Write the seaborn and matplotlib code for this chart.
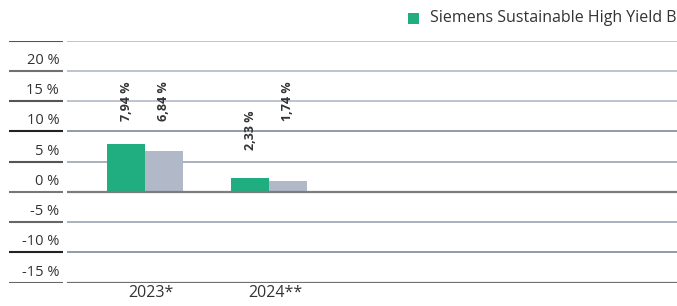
import matplotlib
matplotlib.use("Agg")
import matplotlib.pyplot as plt
import seaborn as sns
import pandas as pd
from matplotlib.patches import Rectangle

# ---- data ----
categories = ["2023*", "2024**"]
fund_values = [7.94, 2.33]
bench_values = [6.84, 1.74]
series_names = ["Siemens Sustainable High Yield B", "Benchmark"]
value_labels_fund = ["7,94 %", "2,33 %"]
value_labels_bench = ["6,84 %", "1,74 %"]
y_ticks = [25, 20, 15, 10, 5, 0, -5, -10, -15]
y_tick_labels = ["", "20 %", "15 %", "10 %", "5 %", "0 %", "-5 %", "-10 %", "-15 %"]

# label anchor heights (layout)
label_base_fund = [11.75, 6.95]
label_base_bench = [11.75, 11.75]

GREEN = "#20ad80"
GREY = "#b1b8c7"

sns.set_theme(style="white")
plt.rcParams["font.family"] = ["Open Sans", "DejaVu Sans"]

W, H = 677, 306
fig = plt.figure(figsize=(W / 100, H / 100), dpi=100)

px_left, px_right = 67, 677
px_top, px_bot = 40.7, 282.7
ax = fig.add_axes([px_left / W, 1 - px_bot / H, (px_right - px_left) / W, (px_bot - px_top) / H])
axl = fig.add_axes([9 / W, 1 - px_bot / H, (63 - 9) / W, (px_bot - px_top) / H])

df = pd.DataFrame({
    "cat": categories * 2,
    "val": fund_values + bench_values,
    "series": [series_names[0]] * len(categories) + [series_names[1]] * len(categories),
})
sns.barplot(data=df, x="cat", y="val", hue="series", palette=[GREEN, GREY],
            width=0.605, gap=0, legend=False, ax=ax, zorder=3, saturation=1,
            linewidth=0, edgecolor="none")

ax.set_ylim(-15, 25)
ax.set_xlim(-0.629, 4.29)
axl.set_ylim(-15, 25)
axl.set_xlim(0, 1)

right_colors = {25: "#b9bfcc", 20: "#b9bfcc", 15: "#b9bfcc", 10: "#8a93a5", 5: "#a3abbb",
                0: "#7d7d7d", -5: "#a3abbb", -10: "#8a93a5", -15: "#6f6f6f"}
left_colors = {25: "#555555", 20: "#707070", 15: "#555555", 10: "#222222", 5: "#555555",
               0: "#777777", -5: "#666666", -10: "#222222", -15: "#666666"}
for t in y_ticks:
    ax.axhline(t, color=right_colors[t], lw=1.6 if t in (0, -15) else 1.3, zorder=4 if t == 0 else 1)
    axl.axhline(t, color=left_colors[t], lw=1.5)

for t, lab in zip(y_ticks, y_tick_labels):
    if lab:
        axl.text(0.93, t + 1.75, lab, ha="right", va="center", fontsize=10.5, color="#333333")

for a in (ax, axl):
    a.set_yticks([])
    for s in a.spines.values():
        s.set_visible(False)
    a.set_facecolor("none")
axl.set_xticks([])

ax.set_xlabel("")
ax.set_ylabel("")
ax.set_xticks(range(len(categories)))
ax.set_xticklabels([])
ax.tick_params(axis="x", length=0)
for i, c in enumerate(categories):
    ax.text(i + 0.05, -15.4, c, ha="center", va="top", fontsize=11.5, color="#333333",
            transform=ax.transData)

# value labels
bw = 0.605 / 2
for i in range(len(categories)):
    ax.text(i - bw / 2, label_base_fund[i], value_labels_fund[i], rotation=90,
            ha="center", va="bottom", fontsize=9, fontweight="bold", color="#333333", zorder=5)
    ax.text(i + bw / 2, label_base_bench[i], value_labels_bench[i], rotation=90,
            ha="center", va="bottom", fontsize=9, fontweight="bold", color="#333333", zorder=5)

# legend
fig.patches.append(Rectangle((408 / W, 1 - 24 / H), 11 / W, 11 / H, transform=fig.transFigure,
                             facecolor=GREEN, edgecolor="none"))
fig.text(430 / W, 1 - 18.5 / H, series_names[0], ha="left", va="center", fontsize=11.5,
         color="#333333")

fig.savefig("out.png", dpi=100)
